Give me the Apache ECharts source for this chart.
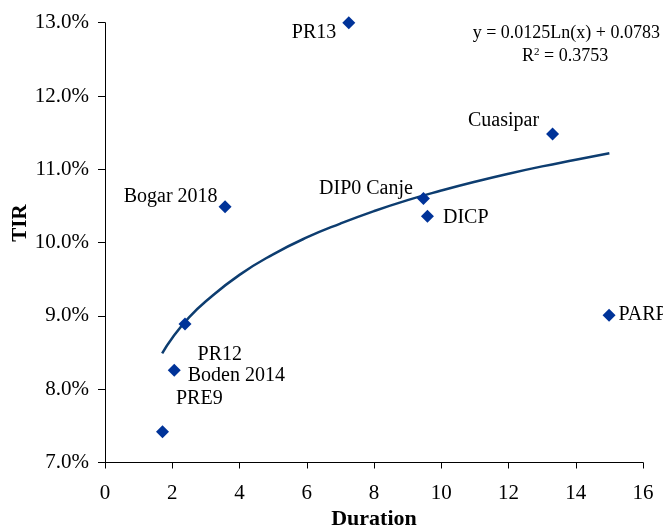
<!DOCTYPE html>
<html>
<head>
<meta charset="utf-8">
<script src="https://cdn.jsdelivr.net/npm/echarts@6/dist/echarts.min.js"></script>
<style>html,body{margin:0;padding:0;background:#fff}#c{width:663px;height:525px}</style>
</head>
<body>
<div id="c"></div>
<script>
var names = ['PR13','Cuasipar','Bogar 2018','DIP0 Canje','DICP','PARP','PR12','Boden 2014','PRE9'];
var durations = [7.25, 13.31, 3.57, 9.47, 9.59, 14.99, 2.38, 2.06, 1.71];
var tirs = [13.0, 11.48, 10.49, 10.60, 10.36, 9.01, 8.89, 8.26, 7.42];
var trendX = [1.7, 2, 2.5, 3, 4, 5, 6, 7, 8, 9, 10, 11, 12, 13, 14, 15];
var trendY = [8.49, 8.70, 8.98, 9.20, 9.56, 9.84, 10.07, 10.26, 10.43, 10.58, 10.71, 10.83, 10.94, 11.04, 11.13, 11.22];
var xTicks = [0, 2, 4, 6, 8, 10, 12, 14, 16];
var yTicks = [7, 8, 9, 10, 11, 12, 13];

var FONT = 'Liberation Serif';
var place = {
  'PR13': {position:'left', offset:[-2, 10]},
  'Cuasipar': {position:'left', offset:[-3, -13]},
  'Bogar 2018': {position:'left', offset:[3, -10]},
  'DIP0 Canje': {position:'left', offset:[0, -10]},
  'DICP': {position:'right', offset:[5, 2]},
  'PARP': {position:'right', offset:[-1, 0]},
  'PR12': {position:'right', offset:[2, 31]},
  'Boden 2014': {position:'right', offset:[3, 6]},
  'PRE9': {position:'right', offset:[3, -33]}
};
var pts = names.map(function(n, i){
  var p = place[n];
  return {value:[durations[i], tirs[i]], name:n,
    label:{show:true, formatter:n, position:p.position, offset:p.offset,
      fontFamily:FONT, fontSize:20, color:'#000', distance:4}};
});
var trend = trendX.map(function(x, i){ return [x, trendY[i]]; });

var chart = echarts.init(document.getElementById('c'));
chart.setOption({
  animation:false,
  backgroundColor:'#fff',
  grid:{left:105, right:20, top:22.7, bottom:62.5, containLabel:false, outerBoundsMode:'none'},
  xAxis:{type:'value', min:xTicks[0], max:xTicks[xTicks.length-1], interval:2,
    splitLine:{show:false},
    axisLine:{show:true, onZero:false, lineStyle:{color:'#000', width:1}},
    axisTick:{show:true, inside:false, length:6, lineStyle:{color:'#000'}},
    axisLabel:{fontFamily:FONT, fontSize:21, color:'#000', margin:20},
    name:'Duration', nameLocation:'middle', nameGap:43,
    nameTextStyle:{fontFamily:FONT, fontSize:22, fontWeight:'bold', color:'#000'}},
  yAxis:{type:'value', min:yTicks[0], max:yTicks[yTicks.length-1], interval:1,
    splitLine:{show:false},
    axisLine:{show:true, onZero:false, lineStyle:{color:'#000', width:1}},
    axisTick:{show:true, inside:false, length:7, lineStyle:{color:'#000'}},
    axisLabel:{fontFamily:FONT, fontSize:21, color:'#000', margin:16,
      formatter:function(v){return v.toFixed(1)+'%';}}},
  series:[
    {type:'line', data:trend, smooth:true, showSymbol:false, symbol:'none',
      lineStyle:{color:'#0d3d70', width:2.5}, z:2, silent:true},
    {type:'scatter', data:pts, symbol:'diamond', symbolSize:13,
      itemStyle:{color:'#003399', opacity:1}, z:3}
  ],
  graphic:[
    {type:'text', x:20.5, y:223, rotation:Math.PI/2,
      style:{text:'TIR', fontFamily:FONT, fontSize:21, fontWeight:'bold', fill:'#000', textAlign:'center', textVerticalAlign:'middle'}},
    {type:'text', right:3, top:24, style:{text:'y = 0.0125Ln(x) + 0.0783', fontFamily:FONT, fontSize:18, fill:'#000'}},
    {type:'text', left:522, top:47, style:{text:'R{s|2} = 0.3753', fontFamily:FONT, fontSize:18, fill:'#000',
      rich:{s:{fontFamily:FONT, fontSize:11, verticalAlign:'top', fill:'#000'}}}}
  ]
});
</script>
</body>
</html>
